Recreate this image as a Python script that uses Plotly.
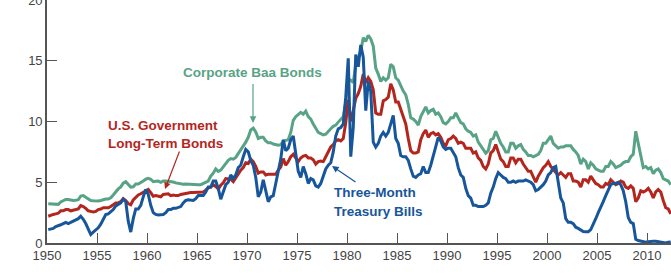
import plotly.graph_objects as go

# ---------------- data (quarterly readings, % per year) ----------------
years = list(range(1950, 2013))
quarter_offsets = [0.125, 0.375, 0.625, 0.875]

baa = [
    3.24, 3.22, 3.22, 3.20,  # 1950
    3.18, 3.38, 3.50, 3.58,  # 1951
    3.58, 3.52, 3.50, 3.52,  # 1952
    3.56, 3.86, 3.90, 3.76,  # 1953
    3.65, 3.50, 3.47, 3.45,  # 1954
    3.45, 3.50, 3.58, 3.62,  # 1955
    3.62, 3.72, 3.95, 4.25,  # 1956
    4.45, 4.62, 4.92, 5.05,  # 1957
    4.82, 4.60, 4.62, 4.85,  # 1958
    4.85, 4.95, 5.10, 5.25,  # 1959
    5.32, 5.25, 5.05, 5.08,  # 1960
    5.10, 5.00, 5.10, 5.10,  # 1961
    5.08, 5.02, 5.02, 4.95,  # 1962
    4.90, 4.85, 4.84, 4.85,  # 1963
    4.83, 4.85, 4.82, 4.81,  # 1964
    4.80, 4.80, 4.90, 5.00,  # 1965
    5.10, 5.50, 5.75, 6.10,  # 1966
    5.90, 6.00, 6.30, 6.60,  # 1967
    6.80, 6.95, 6.90, 7.05,  # 1968
    7.35, 7.60, 7.90, 8.30,  # 1969
    8.70, 9.30, 9.45, 9.15,  # 1970
    8.60, 8.70, 8.70, 8.40,  # 1971
    8.25, 8.25, 8.15, 8.10,  # 1972
    8.05, 8.10, 8.35, 8.45,  # 1973
    8.50, 9.10, 10.10, 10.40,  # 1974
    10.60, 10.75, 10.60, 10.85,  # 1975
    10.40, 10.20, 9.80, 9.40,  # 1976
    9.10, 9.00, 8.90, 8.95,  # 1977
    9.20, 9.40, 9.60, 9.70,  # 1978
    9.95, 10.20, 10.40, 11.60,  # 1979
    13.50, 13.40, 13.20, 14.70,  # 1980
    15.30, 15.80, 16.90, 16.60,  # 1981
    17.10, 16.80, 16.20, 14.40,  # 1982
    13.90, 13.30, 13.60, 13.40,  # 1983
    13.60, 14.70, 14.50, 13.60,  # 1984
    13.40, 12.90, 12.50, 12.20,  # 1985
    11.40, 10.30, 10.20, 10.00,  # 1986
    9.70, 10.40, 10.80, 11.20,  # 1987
    10.70, 10.90, 11.00, 10.60,  # 1988
    10.70, 10.40, 9.90, 9.80,  # 1989
    10.00, 10.30, 10.30, 10.70,  # 1990
    10.30, 9.90, 9.80, 9.40,  # 1991
    9.20, 9.10, 8.80, 8.90,  # 1992
    8.30, 8.00, 7.70, 7.40,  # 1993
    7.60, 8.50, 8.60, 9.20,  # 1994
    8.70, 8.20, 7.90, 7.50,  # 1995
    7.50, 8.20, 8.20, 7.80,  # 1996
    8.00, 8.10, 7.70, 7.50,  # 1997
    7.20, 7.20, 7.10, 7.20,  # 1998
    7.30, 7.60, 8.20, 8.20,  # 1999
    8.50, 8.80, 8.20, 8.00,  # 2000
    7.80, 7.90, 7.90, 8.00,  # 2001
    8.00, 8.00, 7.70, 7.50,  # 2002
    7.20, 6.50, 6.90, 6.70,  # 2003
    6.10, 6.60, 6.40, 6.10,  # 2004
    6.00, 5.90, 5.90, 6.30,  # 2005
    6.30, 6.70, 6.50, 6.20,  # 2006
    6.30, 6.40, 6.60, 6.70,  # 2007
    6.70, 7.10, 7.30, 9.20,  # 2008
    8.20, 7.30, 6.20, 6.30,  # 2009
    6.10, 6.20, 5.70, 6.00,  # 2010
    6.10, 5.80, 5.30, 5.20,  # 2011
    5.10, 4.80,              # 2012
]

govt = [
    2.20, 2.30, 2.35, 2.40,  # 1950
    2.45, 2.65, 2.65, 2.75,  # 1951
    2.75, 2.65, 2.70, 2.75,  # 1952
    2.80, 3.08, 3.00, 2.85,  # 1953
    2.65, 2.60, 2.55, 2.60,  # 1954
    2.75, 2.80, 2.90, 2.90,  # 1955
    2.90, 3.00, 3.15, 3.30,  # 1956
    3.30, 3.40, 3.65, 3.50,  # 1957
    3.25, 3.15, 3.55, 3.75,  # 1958
    3.95, 4.05, 4.15, 4.30,  # 1959
    4.40, 4.15, 3.85, 3.90,  # 1960
    3.85, 3.80, 4.00, 4.00,  # 1961
    4.05, 3.90, 3.95, 3.90,  # 1962
    3.90, 4.00, 4.05, 4.10,  # 1963
    4.15, 4.15, 4.15, 4.15,  # 1964
    4.15, 4.15, 4.20, 4.35,  # 1965
    4.55, 4.60, 4.80, 4.65,  # 1966
    4.45, 4.75, 4.95, 5.30,  # 1967
    5.25, 5.25, 5.05, 5.35,  # 1968
    5.75, 6.00, 6.20, 6.60,  # 1969
    6.55, 6.90, 6.70, 6.30,  # 1970
    5.75, 5.85, 5.85, 5.60,  # 1971
    5.65, 5.65, 5.60, 5.65,  # 1972
    6.00, 6.25, 6.95, 6.40,  # 1973
    6.70, 7.10, 7.30, 7.00,  # 1974
    6.70, 7.00, 7.15, 7.20,  # 1975
    7.00, 7.00, 6.85, 6.50,  # 1976
    6.70, 6.75, 6.70, 7.10,  # 1977
    7.50, 7.90, 8.10, 8.40,  # 1978
    8.50, 8.40, 8.60, 9.90,  # 1979
    11.80, 10.00, 10.90, 11.90,  # 1980
    12.30, 12.90, 13.90, 13.20,  # 1981
    13.60, 13.30, 12.60, 10.70,  # 1982
    10.60, 10.60, 11.70, 11.80,  # 1983
    12.00, 13.10, 12.60, 11.60,  # 1984
    11.60, 11.00, 10.50, 9.80,  # 1985
    8.60, 7.60, 7.40, 7.40,  # 1986
    7.50, 8.50, 9.00, 9.30,  # 1987
    8.70, 9.00, 9.10, 8.90,  # 1988
    9.00, 8.70, 8.20, 8.00,  # 1989
    8.50, 8.60, 8.80, 8.60,  # 1990
    8.20, 8.30, 8.20, 7.80,  # 1991
    7.80, 7.80, 7.40, 7.50,  # 1992
    7.00, 6.80, 6.30, 6.10,  # 1993
    6.50, 7.40, 7.60, 8.10,  # 1994
    7.50, 6.90, 6.70, 6.30,  # 1995
    6.30, 7.00, 7.00, 6.60,  # 1996
    6.90, 6.90, 6.50, 6.20,  # 1997
    5.90, 5.90, 5.50, 5.00,  # 1998
    5.50, 5.90, 6.20, 6.40,  # 1999
    6.70, 6.30, 6.00, 5.80,  # 2000
    5.60, 5.80, 5.60, 5.40,  # 2001
    5.70, 5.70, 5.10, 5.10,  # 2002
    5.00, 4.60, 5.20, 5.20,  # 2003
    5.00, 5.50, 5.20, 4.90,  # 2004
    4.80, 4.60, 4.60, 4.90,  # 2005
    4.80, 5.20, 5.00, 4.80,  # 2006
    4.90, 5.10, 5.00, 4.60,  # 2007
    4.50, 4.70, 4.50, 3.40,  # 2008
    3.70, 4.30, 4.20, 4.30,  # 2009
    4.50, 4.20, 3.70, 4.20,  # 2010
    4.40, 4.20, 3.50, 2.90,  # 2011
    2.80, 2.40,              # 2012
]

tbill = [
    1.10, 1.15, 1.20, 1.35,  # 1950
    1.40, 1.50, 1.60, 1.70,  # 1951
    1.60, 1.70, 1.80, 1.95,  # 1952
    2.00, 2.20, 1.95, 1.60,  # 1953
    1.10, 0.70, 0.90, 1.10,  # 1954
    1.25, 1.55, 1.95, 2.35,  # 1955
    2.40, 2.55, 2.75, 3.05,  # 1956
    3.20, 3.30, 3.60, 3.40,  # 1957
    1.80, 0.90, 2.00, 2.80,  # 1958
    2.80, 3.10, 3.80, 4.40,  # 1959
    4.00, 3.10, 2.50, 2.35,  # 1960
    2.30, 2.30, 2.35, 2.50,  # 1961
    2.75, 2.75, 2.85, 2.85,  # 1962
    2.90, 3.00, 3.30, 3.50,  # 1963
    3.55, 3.50, 3.50, 3.65,  # 1964
    3.90, 3.90, 3.90, 4.20,  # 1965
    4.60, 4.60, 5.10, 5.10,  # 1966
    4.50, 3.60, 4.30, 4.80,  # 1967
    5.00, 5.60, 5.30, 5.60,  # 1968
    6.20, 6.40, 7.10, 7.70,  # 1969
    7.50, 6.80, 6.40, 5.40,  # 1970
    3.80, 4.20, 5.20, 4.40,  # 1971
    3.40, 3.80, 3.90, 4.90,  # 1972
    5.80, 6.90, 8.50, 7.60,  # 1973
    7.80, 8.50, 8.80, 7.40,  # 1974
    5.90, 5.40, 6.30, 5.70,  # 1975
    4.90, 5.30, 5.20, 4.70,  # 1976
    4.60, 4.90, 5.60, 6.10,  # 1977
    6.40, 6.60, 7.50, 8.80,  # 1978
    9.40, 9.50, 9.80, 12.00,  # 1979
    15.20, 7.10, 9.50, 15.50,  # 1980
    14.50, 16.30, 15.30, 10.90,  # 1981
    13.30, 12.50, 8.30, 7.90,  # 1982
    8.20, 8.80, 9.10, 8.80,  # 1983
    9.10, 9.80, 10.50, 8.60,  # 1984
    8.20, 7.20, 7.10, 7.10,  # 1985
    6.80, 6.10, 5.50, 5.40,  # 1986
    5.60, 5.70, 6.30, 5.80,  # 1987
    5.80, 6.40, 7.20, 7.80,  # 1988
    8.70, 8.40, 7.90, 7.70,  # 1989
    7.80, 7.80, 7.50, 7.10,  # 1990
    6.20, 5.60, 5.40, 4.50,  # 1991
    3.90, 3.70, 3.10, 3.10,  # 1992
    3.00, 3.00, 3.00, 3.10,  # 1993
    3.30, 4.10, 4.60, 5.30,  # 1994
    5.80, 5.60, 5.40, 5.30,  # 1995
    5.00, 5.00, 5.10, 5.00,  # 1996
    5.10, 5.10, 5.10, 5.20,  # 1997
    5.10, 5.00, 4.80, 4.30,  # 1998
    4.40, 4.60, 4.80, 5.10,  # 1999
    5.60, 5.80, 6.20, 6.30,  # 2000
    4.90, 3.70, 3.30, 2.00,  # 2001
    1.70, 1.70, 1.60, 1.30,  # 2002
    1.20, 1.10, 0.95, 0.92,  # 2003
    0.93, 1.10, 1.50, 2.00,  # 2004
    2.50, 2.90, 3.40, 3.90,  # 2005
    4.40, 4.80, 4.90, 4.90,  # 2006
    5.00, 4.80, 4.30, 3.40,  # 2007
    2.10, 1.70, 1.60, 0.30,  # 2008
    0.20, 0.15, 0.15, 0.06,  # 2009
    0.10, 0.15, 0.15, 0.14,  # 2010
    0.10, 0.05, 0.02, 0.01,  # 2011
    0.06, 0.09,              # 2012
]

x_ticks = [1950, 1955, 1960, 1965, 1970, 1975, 1980, 1985, 1990, 1995, 2000, 2005, 2010]
y_ticks = [0, 5, 10, 15, 20]

dates = [y + q for y in years for q in quarter_offsets][:len(baa)]

# ---------------- styling ----------------
GREEN = "#58a386"
RED = "#b3261e"
BLUE = "#17569b"
AXIS = "#555555"
FONT = "Liberation Sans, Arial, Helvetica, sans-serif"

fig = go.Figure()
for vals, col in [(baa, GREEN), (govt, RED), (tbill, BLUE)]:
    fig.add_trace(go.Scatter(x=dates, y=vals, mode="lines",
                             line=dict(color=col, width=3), hoverinfo="skip"))

def label(text, x, y, color, xanchor="left"):
    fig.add_annotation(x=x, y=y, text="<b>" + text + "</b>", showarrow=False,
                       xanchor=xanchor, yanchor="middle", xref="x", yref="y",
                       font=dict(family=FONT, size=13.5, color=color), borderpad=0)

def arrow(x, y, ax, ay, color):
    fig.add_annotation(x=x, y=y, ax=ax, ay=ay, axref="x", ayref="y", xref="x", yref="y",
                       text="", showarrow=True, arrowhead=2, arrowsize=1.1,
                       arrowwidth=1.2, arrowcolor=color)

label("Corporate Baa Bonds", 1970.55, 14.07, GREEN, xanchor="center")
arrow(1970.6, 9.88, 1970.6, 13.2, GREEN)
label("U.S. Government", 1956.0, 9.71, RED)
label("Long-Term Bonds", 1956.0, 8.23, RED)
arrow(1961.8, 4.44, 1963.3, 7.65, RED)
label("Three-Month", 1978.6, 4.12, BLUE)
label("Treasury Bills", 1978.6, 2.63, BLUE)
arrow(1978.5, 6.34, 1981.0, 4.94, BLUE)

fig.update_layout(
    width=671, height=279,
    margin=dict(l=47, r=0, t=0, b=36),
    paper_bgcolor="white", plot_bgcolor="white",
    showlegend=False,
    font=dict(family=FONT, size=13, color="#444444"),
)
fig.update_xaxes(range=[1950, 2012.4], tickvals=x_ticks, ticktext=[str(v) for v in x_ticks],
                 showgrid=False, zeroline=False, showline=True, linecolor=AXIS, linewidth=1.6,
                 ticks="inside", ticklen=10, tickwidth=1.2, tickcolor=AXIS,
                 ticklabeloverflow="allow", automargin=False,
                 tickfont=dict(size=13, color="#444444"))
fig.update_yaxes(range=[0, 20], tickvals=y_ticks, showgrid=False, zeroline=False,
                 showline=True, linecolor=AXIS, linewidth=1.6,
                 ticks="inside", ticklen=10, tickwidth=1.2, tickcolor=AXIS,
                 ticklabeloverflow="allow", automargin=False,
                 tickfont=dict(size=13, color="#444444"))

fig.write_html("out.html")
